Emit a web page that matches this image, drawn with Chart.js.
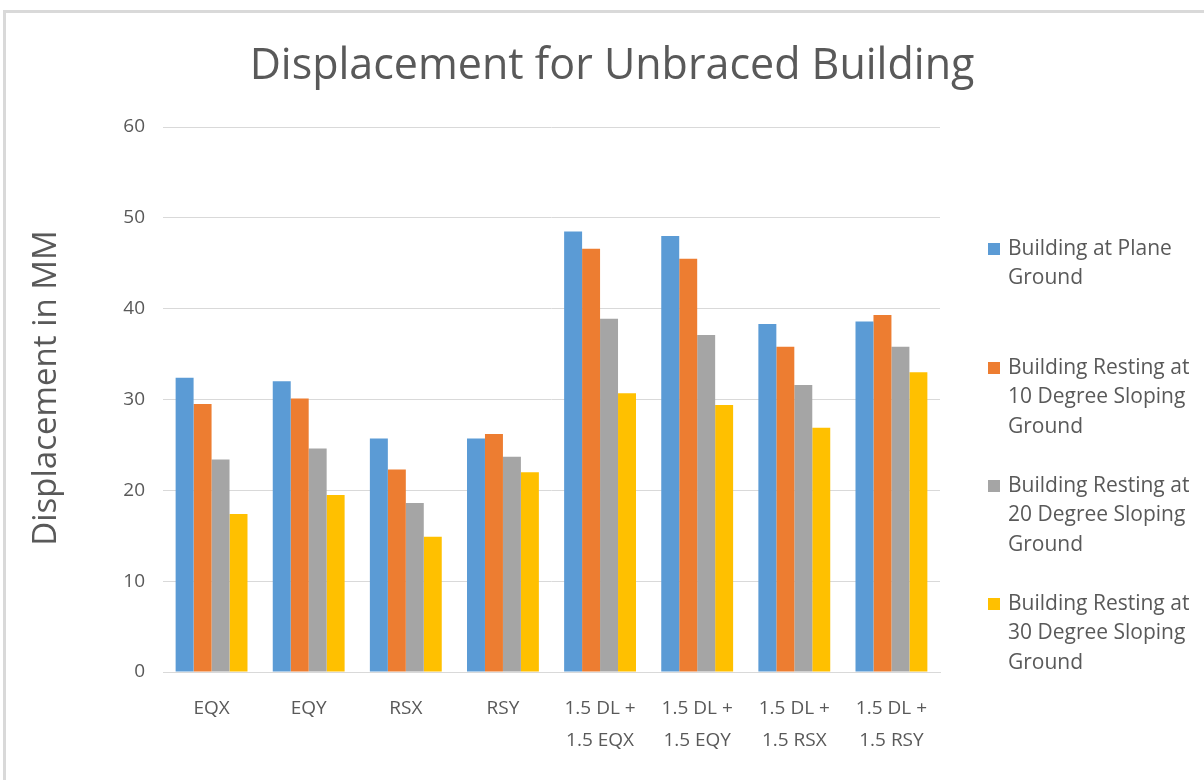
<!DOCTYPE html>
<html>
<head>
<meta charset="utf-8">
<script src="https://cdn.jsdelivr.net/npm/chart.js@4"></script>
<style>
  html, body { margin: 0; padding: 0; background: #fff; overflow: hidden; }
  #wrap { position: relative; width: 1204px; height: 780px; }
  #frame { position: absolute; left: 3px; top: 10px; width: 1210px; height: 790px; border: 3px solid #d9d9d9; box-sizing: border-box; pointer-events: none; }
  canvas { position: absolute; left: 0; top: 0; }
</style>
</head>
<body>
<div id="wrap">
  <canvas id="c" width="1204" height="780"></canvas>
  <div id="frame"></div>
</div>
<script>
const titleText = "Displacement for Unbraced Building";
const yAxisTitle = "Displacement in MM";
const categories = [
  ["EQX"], ["EQY"], ["RSX"], ["RSY"],
  ["1.5 DL +", "1.5 EQX"], ["1.5 DL +", "1.5 EQY"],
  ["1.5 DL +", "1.5 RSX"], ["1.5 DL +", "1.5 RSY"]
];
const seriesLabels = [
  ["Building at Plane", "Ground"],
  ["Building Resting at", "10 Degree Sloping", "Ground"],
  ["Building Resting at", "20 Degree Sloping", "Ground"],
  ["Building Resting at", "30 Degree Sloping", "Ground"]
];
const planeGround   = [32.4, 32.0, 25.7, 25.7, 48.5, 48.0, 38.3, 38.6];
const slope10Ground = [29.5, 30.1, 22.3, 26.2, 46.6, 45.5, 35.8, 39.3];
const slope20Ground = [23.4, 24.6, 18.6, 23.7, 38.9, 37.1, 31.6, 35.8];
const slope30Ground = [17.4, 19.5, 14.9, 22.0, 30.7, 29.4, 26.9, 33.0];
const yTicks = [0, 10, 20, 30, 40, 50, 60];
const colors = ["#5B9BD5", "#ED7D31", "#A5A5A5", "#FFC000"];

const FONT = "'Open Sans', 'Noto Sans', sans-serif";
const TEXT = "#595959";

const textPlugin = {
  id: 'textDecor',
  afterDraw(chart) {
    const ctx = chart.ctx;
    ctx.save();
    // Title
    ctx.font = "43px " + FONT;
    ctx.fillStyle = TEXT;
    ctx.textAlign = "center";
    ctx.textBaseline = "middle";
    ctx.fillText(titleText, 612, 67);
    // Y axis title
    ctx.save();
    ctx.translate(47, 388);
    ctx.rotate(-Math.PI / 2);
    ctx.font = "33px " + FONT;
    ctx.fillText(yAxisTitle, 0, 0);
    ctx.restore();
    // Legend
    const x0 = 988, textX = 1008, lineH = 29.5;
    const startY = [249, 368, 486, 604];
    ctx.font = "21px " + FONT;
    ctx.textAlign = "left";
    chart.data.datasets.forEach((ds, i) => {
      const lines = seriesLabels[i];
      const y = startY[i];
      ctx.fillStyle = ds.backgroundColor;
      ctx.fillRect(x0, y - 6, 12, 12);
      ctx.fillStyle = TEXT;
      lines.forEach((ln, j) => ctx.fillText(ln, textX, y + j * lineH));
    });
    ctx.restore();
  }
};

new Chart(document.getElementById('c'), {
  type: 'bar',
  data: {
    labels: categories,
    datasets: [
      { label: seriesLabels[0].join(' '), data: planeGround,   backgroundColor: colors[0] },
      { label: seriesLabels[1].join(' '), data: slope10Ground, backgroundColor: colors[1] },
      { label: seriesLabels[2].join(' '), data: slope20Ground, backgroundColor: colors[2] },
      { label: seriesLabels[3].join(' '), data: slope30Ground, backgroundColor: colors[3] }
    ]
  },
  options: {
    responsive: false,
    animation: false,
    devicePixelRatio: 1,
    layout: { padding: { left: 0, right: 264, top: 127, bottom: 0 } },
    datasets: { bar: { categoryPercentage: 0.74, barPercentage: 1.0, borderWidth: 0 } },
    plugins: {
      legend: { display: false },
      tooltip: { enabled: false },
      title: { display: false }
    },
    scales: {
      x: {
        grid: { display: false, drawTicks: false },
        border: { display: true, color: '#d9d9d9', width: 1 },
        ticks: {
          color: TEXT, padding: 20, maxRotation: 0, autoSkip: false,
          font: { family: FONT, size: 19, lineHeight: 1.72 }
        },
        afterFit(scale) { scale.height = 108; }
      },
      y: {
        min: 0, max: 60,
        afterBuildTicks(scale) { scale.ticks = yTicks.map(v => ({ value: v })); },
        grid: { color: '#d9d9d9', drawTicks: false, lineWidth: 1 },
        border: { display: false },
        ticks: {
          color: TEXT, padding: 18,
          font: { family: FONT, size: 19 }
        },
        title: { display: false },
        afterFit(scale) { scale.width = 163; }
      }
    }
  },
  plugins: [textPlugin]
});
</script>
</body>
</html>
